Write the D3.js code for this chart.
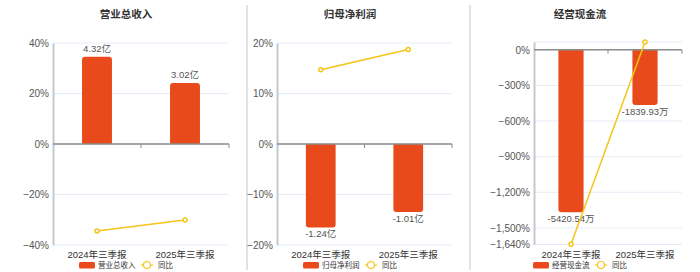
<!DOCTYPE html>
<html>
<head>
<meta charset="utf-8">
<script src="https://cdn.jsdelivr.net/npm/d3@7/dist/d3.min.js"></script>
<style>
  body { margin: 0; background: #fff; }
  text { font-family: "Liberation Sans", "Noto Sans CJK SC", sans-serif; }
</style>
</head>
<body>
<div id="chart"></div>
<script>
const width = 700, height = 272;

const categories = ["2024年三季报", "2025年三季报"];
const titles = ["营业总收入", "归母净利润", "经营现金流"];
const barNames = ["营业总收入", "归母净利润", "经营现金流"];

const revenue = [4.32, 3.02];
const revenueLabels = ["4.32亿", "3.02亿"];
const revenueYoy = [-34.5, -30.1];

const profit = [-1.24, -1.01];
const profitLabels = ["-1.24亿", "-1.01亿"];
const profitYoy = [14.7, 18.7];

const cash = [-5420.54, -1839.93];
const cashLabels = ["-5420.54万", "-1839.93万"];
const cashYoy = [-1638, 66.1];

const ticks1 = [-40, -20, 0, 20, 40];
const ticks2 = [-20, -10, 0, 10, 20];
const ticks3 = [-1640, -1500, -1200, -900, -600, -300, 0];

const panels = [
  { left: 53, right: 229, cx: 126, top: 43, bottom: 245, yDomain: [-40, 40], barDomain: [-5, 5],
    bars: revenue, labels: revenueLabels, yoy: revenueYoy, ticks: ticks1 },
  { left: 277, right: 452, cx: 350, top: 43, bottom: 245, yDomain: [-20, 20], barDomain: [-1.5, 1.5],
    bars: profit, labels: profitLabels, yoy: profitYoy, ticks: ticks2 },
  { left: 534, right: 682, cx: 580, top: 42, bottom: 244.5, yDomain: [-1640, 66.1], barDomain: [-6500, 262],
    bars: cash, labels: cashLabels, yoy: cashYoy, ticks: ticks3 }
];

const barColor = "#E84A1B", lineColor = "#F5C518";

const svg = d3.select("#chart").append("svg")
  .attr("width", width).attr("height", height);

// panel separators
[247, 470].forEach(x => {
  svg.append("line").attr("x1", x).attr("x2", x).attr("y1", 5).attr("y2", 270)
    .attr("stroke", "#d9d9d9").attr("stroke-width", 1.5);
});

panels.forEach((p, pi) => {
  const g = svg.append("g");
  const x = d3.scaleBand().domain(categories).range([p.left, p.right]);
  const y = d3.scaleLinear().domain(p.yDomain).range([p.bottom, p.top]);
  const yb = d3.scaleLinear().domain(p.barDomain).range([p.bottom, p.top]);

  g.append("text").attr("x", p.cx).attr("y", 18).attr("text-anchor", "middle")
    .attr("font-size", 10.5).attr("font-weight", "bold").attr("fill", "#333").text(titles[pi]);

  // grid
  g.selectAll(".grid").data(p.ticks.concat(p.yDomain[1] > 0 && !p.ticks.includes(p.yDomain[1]) ? [p.yDomain[1]] : []))
    .enter().append("line")
    .attr("x1", p.left).attr("x2", p.right)
    .attr("y1", d => y(d)).attr("y2", d => y(d))
    .attr("stroke", "#e6ecf7").attr("stroke-width", 1);

  // y axis
  const yAxis = d3.axisLeft(y).tickValues(p.ticks).tickSize(0).tickPadding(4)
    .tickFormat(d => d3.format(",")(d) + "%");
  const ya = g.append("g").attr("transform", `translate(${p.left},0)`).call(yAxis);
  ya.select(".domain").attr("stroke", "#c8c8c8").attr("stroke-width", 2);
  ya.selectAll("text").attr("font-size", 10).attr("fill", "#555")
    .style("font-family", "'Liberation Sans', sans-serif");

  // bars
  const bw = x.bandwidth() * 0.34;
  p.bars.forEach((v, i) => {
    const cx = x(categories[i]) + x.bandwidth() / 2;
    const y0 = yb(0), y1 = yb(v);
    const top = Math.min(y0, y1), h = Math.abs(y1 - y0), r = 3;
    const x0 = cx - bw / 2;
    let d;
    if (v >= 0) {
      d = `M${x0},${y0}V${top + r}Q${x0},${top} ${x0 + r},${top}H${x0 + bw - r}Q${x0 + bw},${top} ${x0 + bw},${top + r}V${y0}Z`;
    } else {
      const b = top + h;
      d = `M${x0},${y0}V${b - r}Q${x0},${b} ${x0 + r},${b}H${x0 + bw - r}Q${x0 + bw},${b} ${x0 + bw},${b - r}V${y0}Z`;
    }
    g.append("path").attr("d", d).attr("fill", barColor);
    g.append("text").attr("x", cx).attr("y", v >= 0 ? y1 - 5 : y1 + 10)
      .attr("text-anchor", "middle").attr("font-size", 9.5).attr("fill", "#555")
      .text(p.labels[i]);
  });

  // zero line
  const y0 = y(0);
  g.append("line").attr("x1", p.left).attr("x2", p.right).attr("y1", y0).attr("y2", y0)
    .attr("stroke", "#8c8c8c").attr("stroke-width", 1.5);
  [p.left + x.bandwidth(), p.right].forEach(tx => {
    g.append("line").attr("x1", tx).attr("x2", tx).attr("y1", y0).attr("y2", y0 + 4)
      .attr("stroke", "#8c8c8c").attr("stroke-width", 1);
  });

  // x labels
  categories.forEach(c => {
    g.append("text").attr("x", x(c) + x.bandwidth() / 2).attr("y", 258)
      .attr("text-anchor", "middle").attr("font-size", 9.5).attr("fill", "#333").text(c);
  });

  // yoy line
  const line = d3.line().x((d, i) => x(categories[i]) + x.bandwidth() / 2).y(d => y(d));
  g.append("path").datum(p.yoy).attr("d", line).attr("fill", "none")
    .attr("stroke", lineColor).attr("stroke-width", 1.5);
  g.selectAll(".pt").data(p.yoy).enter().append("circle")
    .attr("cx", (d, i) => x(categories[i]) + x.bandwidth() / 2).attr("cy", d => y(d))
    .attr("r", 2).attr("fill", "#fff").attr("stroke", lineColor).attr("stroke-width", 1.5);

  // legend
  const lg = g.append("g").attr("transform", `translate(${p.cx - 47},265)`);
  lg.append("rect").attr("x", 0).attr("y", -3).attr("width", 16).attr("height", 6.5).attr("rx", 1.5)
    .attr("fill", barColor);
  lg.append("text").attr("x", 19).attr("y", 3).attr("font-size", 7.5).attr("fill", "#333").text(barNames[pi]);
  lg.append("line").attr("x1", 62).attr("x2", 74).attr("y1", 0).attr("y2", 0)
    .attr("stroke", lineColor).attr("stroke-width", 1.2);
  lg.append("circle").attr("cx", 68).attr("cy", 0).attr("r", 3.5)
    .attr("fill", "#fff").attr("stroke", lineColor).attr("stroke-width", 1.2);
  lg.append("text").attr("x", 79).attr("y", 3).attr("font-size", 7.5).attr("fill", "#333").text("同比");
});
</script>
</body>
</html>
